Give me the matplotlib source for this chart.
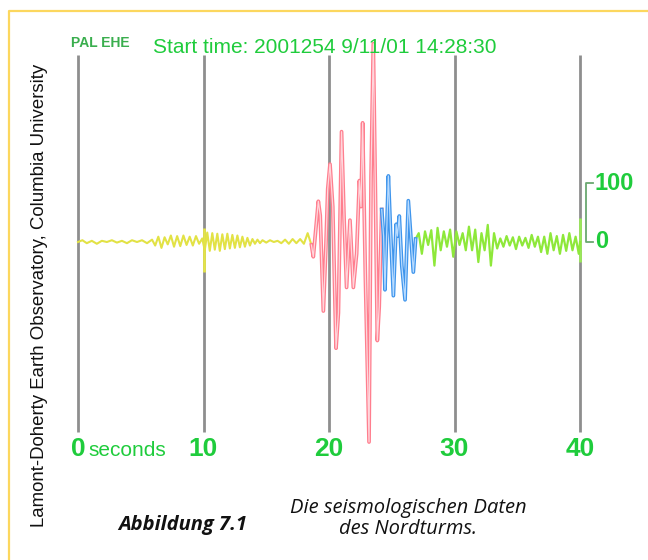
import matplotlib.pyplot as plt

# seismogram, amplitude in counts (scale bar = 100), time in seconds
yellow_t = [0.0, 0.35, 0.7, 1.1, 1.5, 1.9, 2.3, 2.7, 3.1, 3.5, 3.9, 4.3, 4.7, 5.1, 5.5, 5.9,
            6.15, 6.4, 6.65, 6.9, 7.15, 7.4, 7.65, 7.9, 8.15, 8.4, 8.65, 8.9, 9.15, 9.4, 9.65, 9.9,
            10.1, 10.3, 10.5, 10.7, 10.9, 11.1, 11.3, 11.5, 11.7, 11.9, 12.1, 12.3, 12.5, 12.7,
            12.9, 13.1, 13.3, 13.5, 13.7, 13.9, 14.1, 14.3, 14.5, 14.7,
            15.0, 15.3, 15.6, 15.9, 16.2, 16.5, 16.8, 17.1, 17.4, 17.7, 18.0, 18.3, 18.6]
yellow_v = [0, 3, -2, 2, -3, 2, 0, 3, -1, 2, -2, 3, 0, 3, -2, 4,
            -6, 9, -10, 8, -4, 11, -8, 10, -7, 11, -5, 9, -6, 10, -3, 6,
            -14, 16, -15, 15, -13, 14, -15, 13, -12, 14, -11, 12, -10, 11,
            -9, 9, -8, 7, -6, 5, -3, 4, -2, 3,
            -1, 3, 0, 2, -2, 4, -3, 5, -2, 5, -3, 15, -5]

red_t = [18.6, 18.75, 19.15, 19.3, 19.55, 19.75, 19.9, 20.08, 20.3, 20.56, 20.75, 21.0, 21.2, 21.4,
         21.67, 21.94, 22.2, 22.42, 22.55, 22.68, 22.9, 23.19, 23.35, 23.53, 23.7, 23.85, 24.0, 24.2]
red_v = [-5, -25, 69, 45, -117, -10, 90, 132, 60, -180, -120, 187, 40, -77,
         37, -77, -20, 104, 60, 202, -60, -339, 110, 336, 80, -167, -110, 55]

blue_t = [24.2, 24.35, 24.46, 24.73, 24.9, 25.13, 25.35, 25.45, 25.6, 25.8, 26.06, 26.32, 26.72, 26.9]
blue_v = [55, 10, -81, 112, 20, -91, 30, 10, 44, -40, -98, 70, -51, 5]

green_t = [26.9, 27.15, 27.4, 27.65, 27.9, 28.15, 28.4, 28.65, 28.9, 29.15, 29.4, 29.65, 29.9,
           30.15, 30.4, 30.65, 30.9, 31.15, 31.4, 31.65, 31.9, 32.15, 32.4, 32.65, 32.9, 33.15,
           33.4, 33.65, 33.9, 34.15, 34.4, 34.65, 34.9, 35.15, 35.4, 35.65, 35.9, 36.15, 36.4,
           36.65, 36.9, 37.15, 37.4, 37.65, 37.9, 38.15, 38.4, 38.65, 38.9, 39.15, 39.4, 39.65,
           39.9, 40.0]
green_v = [5, 15, -20, 18, -5, 20, -40, 24, -14, 18, -8, 21, -25, 18, -5, 15, -14, 26, -14, 21,
           -34, 15, -14, 29, -40, 15, -11, 6, -8, 10, -6, 8, -12, 9, -6, 7, -10, 12, -8, 9,
           -17, 9, -20, 15, -14, 10, -20, 12, -15, 15, -14, 9, -20, 0]

tick_values = [0, 10, 20, 30, 40]
scale_values = [0, 100]

W, H = 648, 560
x0, px_per_s = 78, 12.55      # pixel of t=0, pixels per second
y0, px_per_u = 242, 0.59      # pixel of zero line, pixels per count


def vy(py):
    return (y0 - py) / px_per_u


def tx(px):
    return (px - x0) / px_per_s


fig = plt.figure(figsize=(6.48, 5.6), dpi=100)
ax = fig.add_axes([0, 0, 1, 1])
ax.set_xlim(tx(0), tx(W))
ax.set_ylim(vy(H), vy(0))
ax.axis('off')

GREEN = '#1fcc3c'

# frame
ax.plot([tx(9), tx(9), tx(W)], [vy(H), vy(11), vy(11)], color='#fcd75e', lw=1.6, zorder=0)

# time lines
ax.vlines(tick_values, vy(432), vy(55), color='#8e8e8e', lw=2.0, zorder=1)
ax.vlines([10], vy(272), vy(228), color='#e3e34a', lw=2.0, zorder=1.5)
ax.vlines([40], vy(262), vy(218), color='#9ae85a', lw=2.0, zorder=1.5)

# traces
ax.plot(yellow_t, yellow_v, color='#e2e245', lw=1.5, zorder=2, solid_joinstyle='round')
ax.plot(green_t, green_v, color='#8ee83a', lw=1.6, zorder=2, solid_joinstyle='round')
ax.plot(red_t, red_v, color='#ff7e8e', lw=2.7, zorder=3)
ax.plot(red_t, red_v, color='#ffd6dc', lw=0.9, zorder=3)
ax.plot(blue_t, blue_v, color='#3f95ec', lw=2.7, zorder=3)
ax.plot(blue_t, blue_v, color='#b8dbff', lw=0.9, zorder=3)

# time labels
for t in tick_values:
    ax.text(t, vy(456), str(t), color=GREEN, fontsize=19, fontweight='bold',
            family='Liberation Sans', ha='center', va='baseline')
ax.text(tx(88), vy(456), 'seconds', color=GREEN, fontsize=15,
        family='Liberation Sans', ha='left', va='baseline')

# amplitude scale bar
sx = tx(586)
ax.plot([tx(593), sx, sx, tx(593)], [scale_values[1], scale_values[1], scale_values[0], scale_values[0]],
        color='#6aa870', lw=1.3)
for v in scale_values:
    ax.text(tx(595), v, str(v), color=GREEN, fontsize=17, fontweight='bold',
            family='Liberation Sans', ha='left', va='center')

# header
fig.text(71 / W, 1 - 47 / H, 'PAL EHE', color='#3aae4e', fontsize=10, fontweight='bold',
         family='Liberation Sans', ha='left', va='baseline')
fig.text(153 / W, 1 - 53 / H, 'Start time: 2001254 9/11/01 14:28:30', color=GREEN, fontsize=15,
         family='Liberation Sans', ha='left', va='baseline')

# side credit
fig.text(40 / W, 1 - 295 / H, 'Lamont-Doherty Earth Observatory, Columbia University',
         rotation=90, fontsize=13.4, family='Liberation Sans', color='#111111',
         ha='center', va='center')

# caption
fig.text(247 / W, 1 - 530 / H, 'Abbildung 7.1', fontsize=14.5, fontweight='bold', style='italic',
         family='Open Sans', color='#111111', ha='right', va='baseline')
fig.text(408 / W, 1 - 513 / H, 'Die seismologischen Daten', fontsize=14.5, style='italic',
         family='Open Sans', color='#111111', ha='center', va='baseline')
fig.text(408 / W, 1 - 534 / H, 'des Nordturms.', fontsize=14.5, style='italic',
         family='Open Sans', color='#111111', ha='center', va='baseline')

fig.savefig('out.png', dpi=100)
